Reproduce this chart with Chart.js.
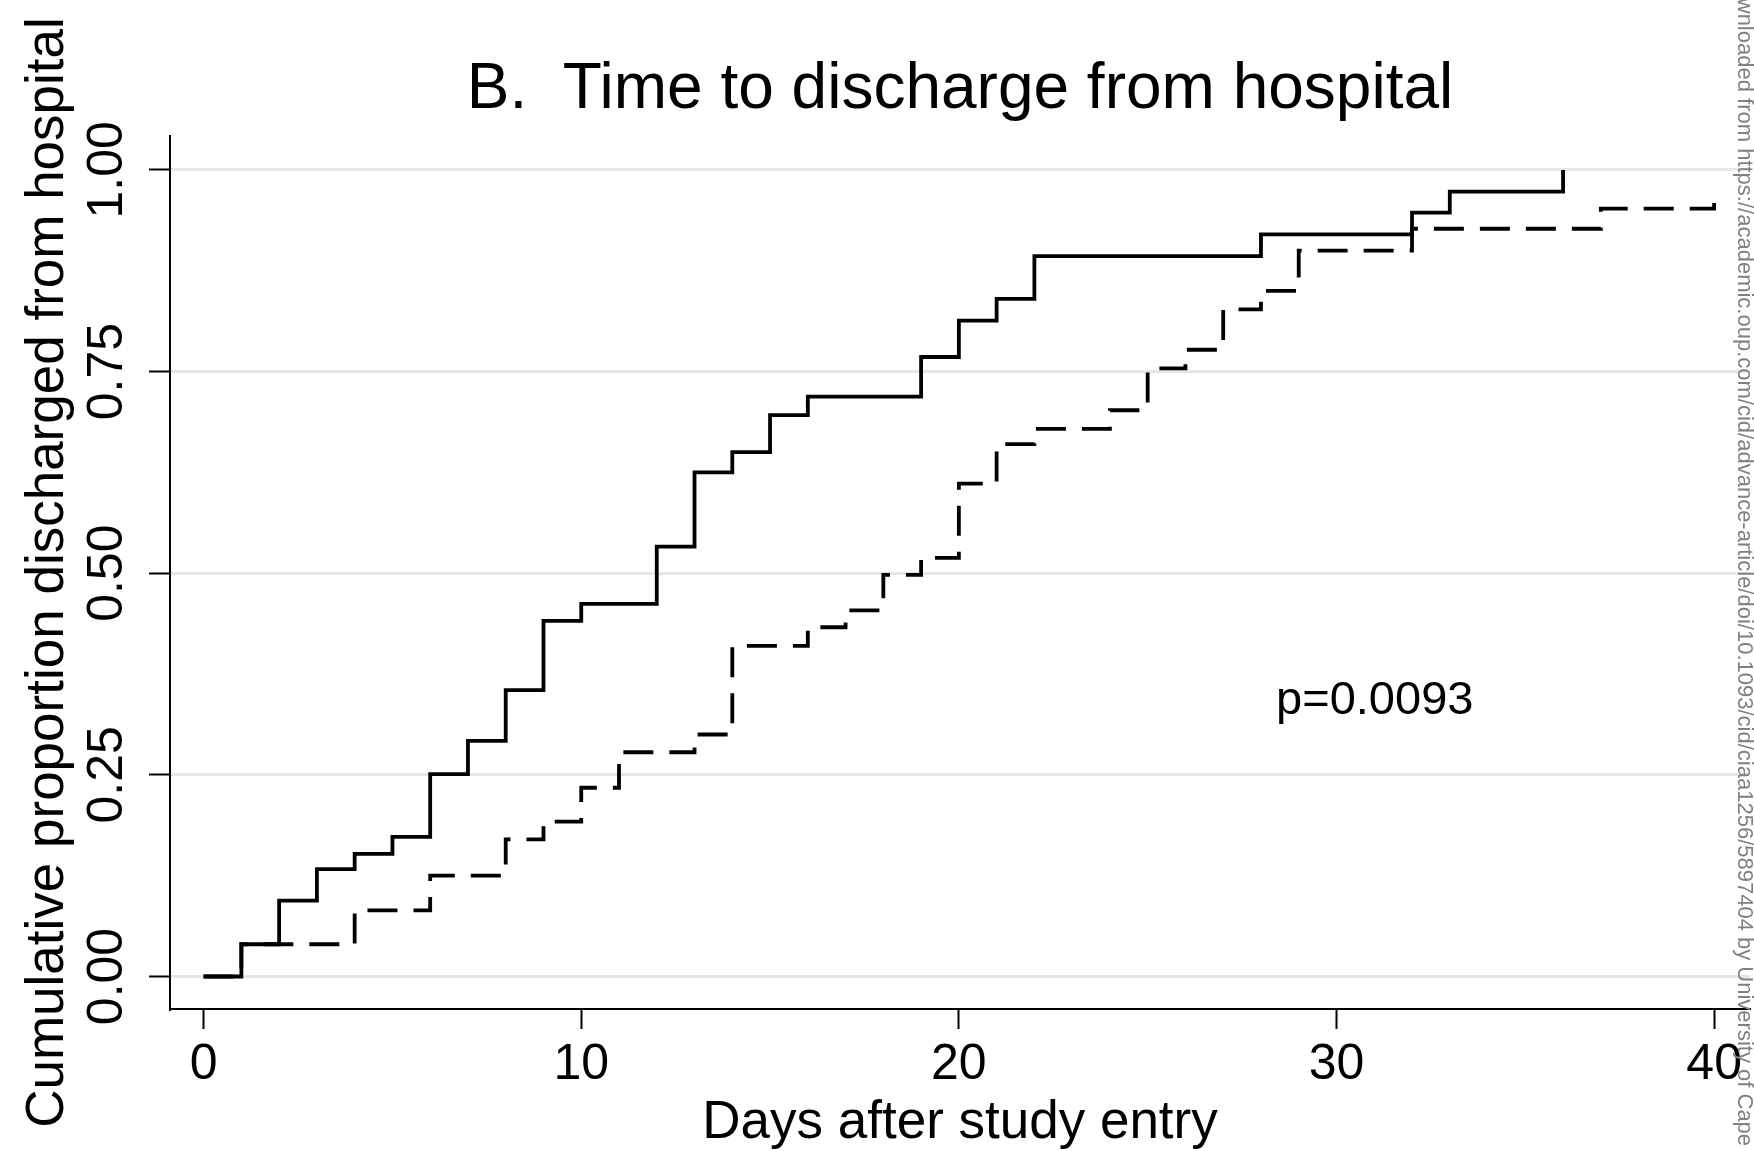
<!DOCTYPE html>
<html><head><meta charset="utf-8">
<script src="https://cdn.jsdelivr.net/npm/chart.js@4.4.1/dist/chart.umd.min.js"></script>
<style>html,body{margin:0;padding:0;background:#fff;overflow:hidden}canvas{display:block}</style>
</head><body>
<canvas id="c" width="1754" height="1151"></canvas>
<script>
const titleText = "B.  Time to discharge from hospital";
const xAxisTitle = "Days after study entry";
const yAxisTitle = "Cumulative proportion discharged from hospital";
const xTickValues = [0, 10, 20, 30, 40];
const yTickValues = [0, 0.25, 0.5, 0.75, 1];
const yTickLabels = ["0.00", "0.25", "0.50", "0.75", "1.00"];

const solidDays = [0, 1, 2, 3, 4, 5, 6, 7, 8, 9, 10, 12, 13, 14, 15, 16, 19, 20, 21, 22, 28, 32, 33, 36];
const solidProp = [0, 0.040, 0.094, 0.133, 0.152, 0.173, 0.251, 0.292, 0.355, 0.441, 0.462, 0.533, 0.625, 0.650, 0.696, 0.719, 0.768, 0.813, 0.840, 0.893, 0.920, 0.947, 0.973, 1.000];

const dashedDays = [0, 1, 4, 6, 8, 9, 10, 11, 13, 14, 16, 17, 18, 19, 20, 21, 22, 24, 25, 26, 27, 28, 29, 32, 37, 40];
const dashedProp = [0, 0.040, 0.082, 0.125, 0.170, 0.192, 0.234, 0.278, 0.300, 0.410, 0.433, 0.454, 0.498, 0.519, 0.611, 0.660, 0.679, 0.702, 0.754, 0.777, 0.827, 0.850, 0.900, 0.927, 0.952, 0.962];

const pValueText = "p=0.0093";
const pValueDay = 28.4;
const pValueProp = 0.325;

const watermarkText = "Downloaded from https://academic.oup.com/cid/advance-article/doi/10.1093/cid/ciaa1256/5897404 by University of Cape Town";

const FONT = "'Liberation Sans', Arial, Helvetica, sans-serif";

const textPlugin = {
  id: 'texts',
  afterDraw(chart) {
    const ctx = chart.ctx, a = chart.chartArea;
    const xs = chart.scales.x, ys = chart.scales.y;
    const cx = (a.left + a.right) / 2, cy = (a.top + a.bottom) / 2;
    ctx.save();
    ctx.fillStyle = '#000';
    ctx.textBaseline = 'alphabetic';
    // title
    ctx.font = `64px ${FONT}`;
    ctx.textAlign = 'center';
    ctx.fillText(titleText, cx, 108);
    // y tick labels (rotated)
    ctx.font = `50px ${FONT}`;
    yTickValues.forEach((v, i) => {
      const y = ys.getPixelForValue(v);
      ctx.save();
      ctx.translate(122, y);
      ctx.rotate(-Math.PI / 2);
      ctx.textAlign = 'center';
      ctx.fillText(yTickLabels[i], 0, 0);
      ctx.restore();
    });
    // y axis title
    ctx.font = `53px ${FONT}`;
    ctx.save();
    ctx.translate(63, cy);
    ctx.rotate(-Math.PI / 2);
    ctx.textAlign = 'center';
    ctx.fillText(yAxisTitle, 0, 0);
    ctx.restore();
    // x axis title
    ctx.textAlign = 'center';
    ctx.fillText(xAxisTitle, cx, 1138);
    // p value
    ctx.font = `47px ${FONT}`;
    ctx.textAlign = 'left';
    ctx.fillText(pValueText, xs.getPixelForValue(pValueDay), ys.getPixelForValue(pValueProp));
    // watermark
    ctx.font = `22px ${FONT}`;
    ctx.fillStyle = '#808080';
    const prefix = watermarkText.slice(0, watermarkText.indexOf(' by ') + 1);
    const start = 937 - ctx.measureText(prefix).width;
    ctx.translate(1738, start);
    ctx.rotate(Math.PI / 2);
    ctx.textAlign = 'left';
    ctx.fillText(watermarkText, 0, 0);
    ctx.restore();
  }
};

const toPts = (d, p) => d.map((x, i) => ({ x: x, y: p[i] }));

new Chart(document.getElementById('c'), {
  type: 'line',
  data: {
    datasets: [
      { data: toPts(dashedDays, dashedProp), borderColor: '#000', borderWidth: 3.8, borderDash: [30, 16], stepped: true, pointRadius: 0, fill: false },
      { data: toPts(solidDays, solidProp), borderColor: '#000', borderWidth: 3.8, stepped: true, pointRadius: 0, fill: false }
    ]
  },
  options: {
    responsive: false,
    animation: false,
    devicePixelRatio: 1,
    events: [],
    layout: { padding: { top: 136, left: 0, right: 4, bottom: 0 } },
    plugins: { legend: { display: false }, tooltip: { enabled: false }, title: { display: false } },
    scales: {
      x: {
        type: 'linear', min: -0.89, max: 40.95,
        afterBuildTicks: s => { s.ticks = xTickValues.map(v => ({ value: v })); },
        afterFit: s => { s.height = 142; },
        ticks: { font: { family: FONT, size: 50 }, color: '#000', padding: 6, maxRotation: 0, autoSkip: false, callback: v => String(v) },
        grid: { drawOnChartArea: false, drawTicks: true, tickLength: 20, tickColor: '#000', tickWidth: 2 },
        border: { display: true, color: '#000', width: 2 }
      },
      y: {
        type: 'linear', min: -0.0403, max: 1.042,
        afterBuildTicks: s => { s.ticks = yTickValues.map(v => ({ value: v })); },
        afterFit: s => { s.width = 170; },
        ticks: { display: false },
        grid: { color: '#e6e6e6', lineWidth: 3, drawTicks: true, tickLength: 21, tickColor: '#000', tickWidth: 2 },
        border: { display: true, color: '#000', width: 2 }
      }
    }
  },
  plugins: [textPlugin]
});
</script>
</body></html>
